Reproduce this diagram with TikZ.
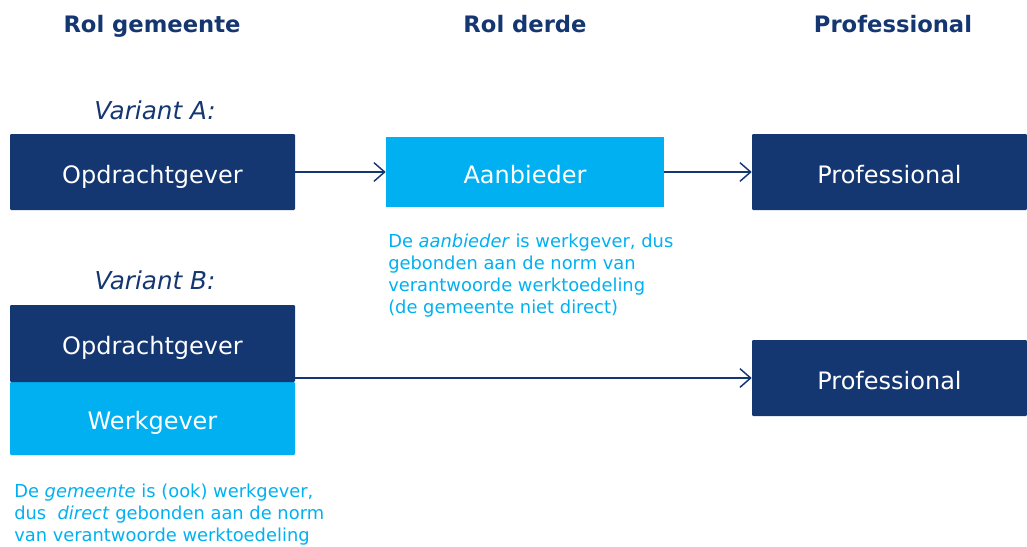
\documentclass[tikz,border=0pt]{standalone}
\usepackage{fontspec}
\setmainfont{DejaVu Sans}
\usetikzlibrary{arrows.meta}
\definecolor{navy}{RGB}{20,54,113}
\definecolor{lblue}{RGB}{0,176,240}
\tikzset{
  boxtext/.style={inner sep=0pt, text height=16.5pt, text depth=0pt, font=\fontsize{18}{21}\selectfont},
  darkbox/.style={fill=navy, text=white, rounded corners=0.8pt, boxtext},
  lightbox/.style={fill=lblue, text=white, boxtext},
  header/.style={text=navy, anchor=base, font=\bfseries\fontsize{17}{21}\selectfont},
  variant/.style={text=navy, anchor=base, font=\itshape\fontsize{18.5}{22}\selectfont},
  note/.style={text=lblue, anchor=north west, inner sep=0pt, align=left, font=\fontsize{13.4}{16.5}\selectfont},
  conn/.style={draw=navy, line width=1.1pt, -{Straight Barb[length=8pt,width=14pt,line width=1.1pt]}}
}
\begin{document}
\begin{tikzpicture}[x=0.75pt,y=-0.75pt]
\useasboundingbox (0,0) rectangle (1027,546);
% headers
\node[header] (h1) at (152,32) {Rol gemeente};
\node[header] (h2) at (525,32) {Rol derde};
\node[header] (h3) at (893,32) {Professional};
% variant labels
\node[variant] (va) at (155,119) {Variant A:};
\node[variant] (vb) at (155,289) {Variant B:};
% variant A
\node[darkbox, minimum width=213.75pt, minimum height=57pt] (oa) at (152.5,172) {Opdrachtgever};
\node[lightbox, minimum width=208.5pt, minimum height=52.5pt] (aa) at (525,172) {Aanbieder};
\node[darkbox, minimum width=206.25pt, minimum height=57pt] (pa) at (889.5,172) {Professional};
\draw[conn] (oa.east) -- (aa.west);
\draw[conn] (aa.east) -- (pa.west);
\node[note] (na) at (388,234) {De \textit{aanbieder} is werkgever, dus\\gebonden aan de norm van\\verantwoorde werktoedeling\\(de gemeente niet direct)};
% variant B
\node[lightbox, rounded corners=0.8pt, minimum width=213.75pt, minimum height=54.75pt] (wb) at (152.5,418.5) {Werkgever};
\node[darkbox, minimum width=213.75pt, minimum height=57.75pt] (ob) at (152.5,343.5) {Opdrachtgever};
\node[darkbox, minimum width=206.25pt, minimum height=57pt] (pb) at (889.5,378) {Professional};
\draw[conn] (ob.east |- pb.west) -- (pb.west);
\node[note] (nb) at (14,484) {De \textit{gemeente} is (ook) werkgever,\\dus\ \ \textit{direct} gebonden aan de norm\\van verantwoorde werktoedeling};
\end{tikzpicture}
\end{document}
